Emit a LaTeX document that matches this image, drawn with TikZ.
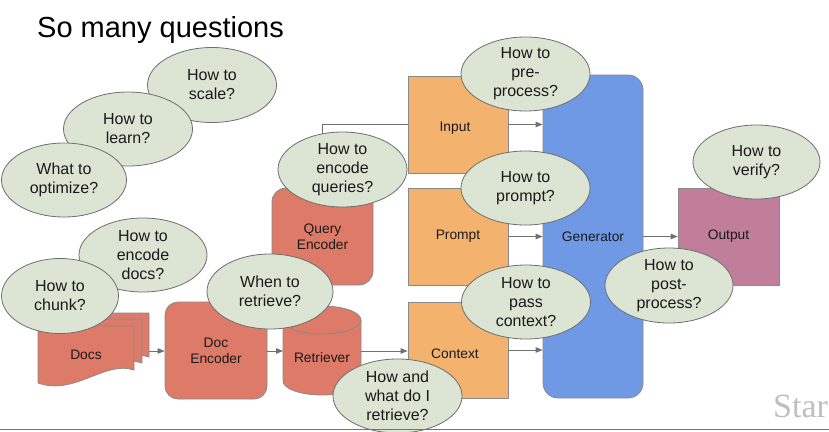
\documentclass[tikz,border=0pt]{standalone}
\usepackage{fontspec}
\setmainfont{Liberation Sans}
\newfontfamily\starfont{Liberation Serif}
\usetikzlibrary{shapes.geometric,arrows.meta}

\definecolor{qfill}{HTML}{DCE5D4}
\definecolor{qborder}{HTML}{6E6E6E}
\definecolor{redbox}{HTML}{DD7A68}
\definecolor{orangebox}{HTML}{F3B36E}
\definecolor{bluebox}{HTML}{6F99E4}
\definecolor{mauvebox}{HTML}{C07E9A}
\definecolor{boxborder}{HTML}{8A8A8A}
\definecolor{linegray}{HTML}{707070}
\definecolor{ink}{HTML}{1A1A1A}

\tikzset{
  question/.style={ellipse, draw=qborder, fill=qfill, line width=0.8pt,
    minimum width=128pt, minimum height=74pt, inner sep=0pt, align=center,
    text=ink, font=\fontsize{16}{19}\selectfont},
  stagebox/.style={draw=boxborder, line width=0.8pt, inner sep=0pt, align=center,
    text=ink, font=\fontsize{13.8}{16}\selectfont},
  redshape/.style={fill=redbox, draw=boxborder, line width=0.8pt},
  flow/.style={draw=linegray, line width=0.9pt, -{Triangle[length=7pt,width=5.5pt]}},
  plainflow/.style={draw=linegray, line width=0.9pt},
}

\begin{document}
\begin{tikzpicture}[x=1pt,y=-1pt]
\useasboundingbox (0,0) rectangle (829,431);
\fill[white] (0,0) rectangle (829,431);
\clip (0,0) rectangle (829,431);

% title
\node[anchor=base west, inner sep=0pt, text=black, font=\fontsize{29}{30}\selectfont]
  (title) at (37,37) {So many questions};

% stack of documents
\foreach \dx/\dy in {15/-13, 8/-7, 0/0} {
  \begin{scope}[shift={(\dx,\dy)}]
    \filldraw[redshape] (38,326) -- (134,326) -- (134,370)
      .. controls (105,360) and (75,396) .. (38,383) -- cycle;
  \end{scope}
}
\node[stagebox, draw=none] (docs) at (86,355) {Docs};
\coordinate (docsR) at (149,351);

% encoders
\node[stagebox, fill=redbox, rounded corners=13pt, minimum width=102pt, minimum height=97pt]
  (docenc) at (216,350.5) {Doc\\Encoder};
\node[stagebox, fill=redbox, rounded corners=14pt, minimum width=101pt, minimum height=97pt]
  (qenc) at (322.5,236.5) {Query\\Encoder};

% retriever (cylinder)
\filldraw[redshape] (283,320) -- (283,381) arc[start angle=180, end angle=0, x radius=39, y radius=14]
  -- (361,320) arc[start angle=0, end angle=-180, x radius=39, y radius=14] -- cycle;
\draw[draw=boxborder, line width=0.8pt] (283,320) arc[start angle=180, end angle=0, x radius=39, y radius=14];
\node[stagebox, draw=none] (retr) at (322,358) {Retriever};
\coordinate (retrW) at (283,351);
\coordinate (retrE) at (361,351);

% generator inputs
\node[stagebox, fill=orangebox, minimum width=100pt, minimum height=97pt] (input) at (458,124.5) {};
\node[stagebox, draw=none] (inputlabel) at (455,128.5) {Input};
\node[stagebox, fill=orangebox, minimum width=100pt, minimum height=97pt] (prompt) at (458,236.5) {Prompt};
\node[stagebox, fill=orangebox, minimum width=100pt, minimum height=96pt] (context) at (458,350) {};
\node[stagebox, draw=none] (contextlabel) at (455,354) {Context};

% generator and output
\node[stagebox, fill=bluebox, rounded corners=15pt, minimum width=100pt, minimum height=323pt]
  (gen) at (593,236.5) {Generator};
\node[stagebox, fill=mauvebox, minimum width=101pt, minimum height=97pt] (out) at (728.5,236.5) {Output};

% connectors
\draw[flow] (docsR) -- (docenc.west |- docsR);
\draw[flow] (docenc.east |- retrW) -- (retrW);
\draw[flow] (retrE) -- (context.west |- retrE);
\draw[plainflow] (qenc.north) |- (input.west);
\draw[flow] (input.east) -- (gen.west |- input.east);
\draw[flow] (prompt.east) -- (gen.west |- prompt.east);
\draw[flow] (context.east) -- (gen.west |- context.east);
\draw[flow] (gen.east |- out.west) -- (out.west);

% questions
\node[question, minimum width=129pt, minimum height=75pt] (qscale) at (212,85) {How to\\scale?};
\node[question, minimum width=129pt] (qlearn) at (128,129) {How to\\learn?};
\node[question, minimum width=125pt] (qopt) at (64,180) {What to\\optimize?};
\node[question] (qencdocs) at (143,255) {How to\\encode\\docs?};
\node[question, minimum width=117pt, minimum height=75pt] (qchunk) at (60,296) {How to\\chunk?};
\node[question, minimum width=126pt, minimum height=75pt] (qwhen) at (270,291.5) {When to\\retrieve?};
\node[question, minimum width=129pt, minimum height=75pt] (qencq) at (342.5,169.5) {How to\\encode\\queries?};
\node[question, minimum width=129pt] (qpre) at (525.5,74) {How to\\pre-\\process?};
\node[question, minimum width=129pt] (qprompt) at (525.5,188) {How to\\prompt?};
\node[question, minimum width=129pt] (qpass) at (526,302) {How to\\pass\\context?};
\node[question, minimum width=129pt] (qwhat) at (397.5,396) {How and\\what do I\\retrieve?};
\node[question, minimum width=127pt] (qverify) at (756.5,162) {How to\\verify?};
\node[question, minimum width=128pt, minimum height=75pt] (qpost) at (669,285.5) {How to\\post-\\process?};

% footer
\node[anchor=base west, inner sep=0pt, text=black!25, font=\starfont\fontsize{34}{34}\selectfont]
  (logo) at (773,417) {Star};
\draw[black!55, line width=1.5pt] (0,429.5) -- (829,429.5);
\end{tikzpicture}
\end{document}
